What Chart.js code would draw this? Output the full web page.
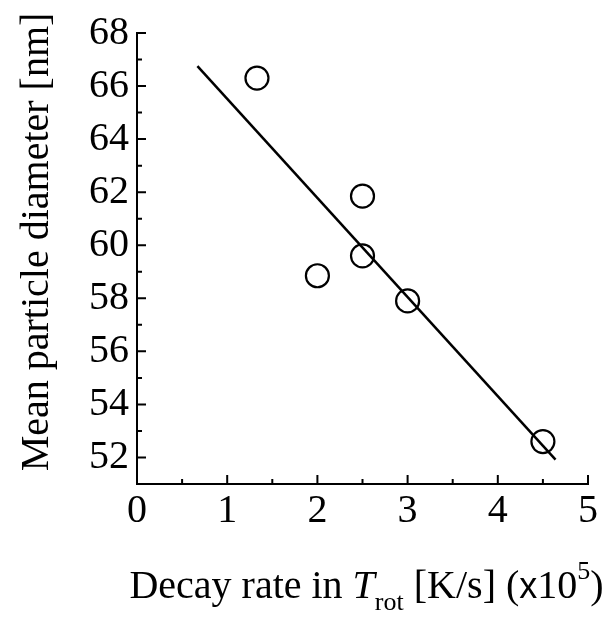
<!DOCTYPE html>
<html>
<head>
<meta charset="utf-8">
<script src="https://cdn.jsdelivr.net/npm/chart.js@4/dist/chart.umd.min.js"></script>
<style>
  body { margin: 0; background: #fff; }
  #box { width: 610px; height: 617px; }
</style>
</head>
<body>
<div id="box"><canvas id="grafico" width="610" height="617"></canvas></div>
<script>
// puntos medidos
const rateX = [1.33, 2.0, 2.5, 2.5, 3.0, 4.5];
const diamY = [66.3, 58.85, 61.85, 59.6, 57.9, 52.6];

// recta de ajuste (extremos)
const fitX = [0.67, 4.64];
const fitY = [66.75, 51.92];

const xTicks = [0, 1, 2, 3, 4, 5];
const xMinor = [0.5, 1.5, 2.5, 3.5, 4.5];
const yTicks = [52, 54, 56, 58, 60, 62, 64, 66, 68];
const yMinor = [53, 55, 57, 59, 61, 63, 65, 67];

const serif = '"Liberation Serif", "Times New Roman", serif';

// ticks hacia dentro, mayores y menores
const ticksDentro = {
    id: 'ticksDentro',
    afterDraw(chart) {
        const c = chart.ctx;
        const a = chart.chartArea;
        const sx = chart.scales.x, sy = chart.scales.y;
        c.save();
        c.strokeStyle = '#000';
        c.lineWidth = 2;
        c.beginPath();
        xTicks.forEach(v => { const p = sx.getPixelForValue(v); c.moveTo(p, a.bottom); c.lineTo(p, a.bottom - 9); });
        xMinor.forEach(v => { const p = sx.getPixelForValue(v); c.moveTo(p, a.bottom); c.lineTo(p, a.bottom - 5); });
        yTicks.forEach(v => { const p = sy.getPixelForValue(v); c.moveTo(a.left, p); c.lineTo(a.left + 9, p); });
        yMinor.forEach(v => { const p = sy.getPixelForValue(v); c.moveTo(a.left, p); c.lineTo(a.left + 5, p); });
        c.stroke();
        c.restore();
    }
};

// titulos de los ejes (el de x lleva subindice y superindice)
const titulos = {
    id: 'titulos',
    afterDraw(chart) {
        const c = chart.ctx;
        const a = chart.chartArea;
        const partes = [
            { t: 'Decay rate in ', f: '40px ' + serif, dy: 0 },
            { t: 'T', f: 'italic 40px ' + serif, dy: 0 },
            { t: 'rot', f: '26px ' + serif, dy: 12 },
            { t: ' [K/s] (', f: '40px ' + serif, dy: 0 },
            { t: 'x', f: '36px "Liberation Sans", Arial, sans-serif', dy: 0 },
            { t: '10', f: '40px ' + serif, dy: 0 },
            { t: '5', f: '26px ' + serif, dy: -19 },
            { t: ')', f: '40px ' + serif, dy: 0 }
        ];
        c.save();
        c.fillStyle = '#000';
        c.textBaseline = 'alphabetic';
        let total = 0;
        partes.forEach(p => { c.font = p.f; p.w = c.measureText(p.t).width; total += p.w; });
        let x = (a.left + a.right) / 2 + 4 - total / 2;
        const base = 598;
        partes.forEach(p => { c.font = p.f; c.fillText(p.t, x, base + p.dy); x += p.w; });

        // eje y, girado
        c.translate(48, 242);
        c.rotate(-Math.PI / 2);
        c.font = '40px ' + serif;
        c.textAlign = 'center';
        c.fillText('Mean particle diameter [nm]', 0, 0);
        c.restore();
    }
};

const ctx = document.getElementById('grafico').getContext('2d');
new Chart(ctx, {
    type: 'scatter',
    data: {
        datasets: [
            {
                label: 'Medidas',
                data: rateX.map((v, i) => ({ x: v, y: diamY[i] })),
                pointStyle: 'circle',
                pointRadius: 11.5,
                pointHoverRadius: 11.5,
                borderWidth: 2.2,
                borderColor: '#000',
                backgroundColor: 'rgba(0,0,0,0)'
            },
            {
                label: 'Ajuste',
                type: 'line',
                data: fitX.map((v, i) => ({ x: v, y: fitY[i] })),
                borderColor: '#000',
                borderWidth: 2.5,
                pointRadius: 0,
                fill: false
            }
        ]
    },
    options: {
        responsive: false,
        animation: false,
        layout: { padding: { top: 33, right: 22, left: 0, bottom: 0 } },
        plugins: {
            legend: { display: false },
            tooltip: { enabled: false }
        },
        scales: {
            x: {
                type: 'linear',
                min: 0,
                max: 5,
                afterBuildTicks: s => { s.ticks = xTicks.map(v => ({ value: v })); },
                afterFit: s => { s.height = 133; },
                grid: { display: false },
                border: { display: true, color: '#000', width: 2 },
                ticks: { color: '#000', padding: -5, font: { family: serif, size: 40 } }
            },
            y: {
                type: 'linear',
                min: 51,
                max: 68,
                afterBuildTicks: s => { s.ticks = yTicks.map(v => ({ value: v })); },
                afterFit: s => { s.width = 137; },
                grid: { display: false },
                border: { display: true, color: '#000', width: 2 },
                ticks: { color: '#000', padding: 0, font: { family: serif, size: 40 } }
            }
        }
    },
    plugins: [ticksDentro, titulos]
});
</script>
</body>
</html>
